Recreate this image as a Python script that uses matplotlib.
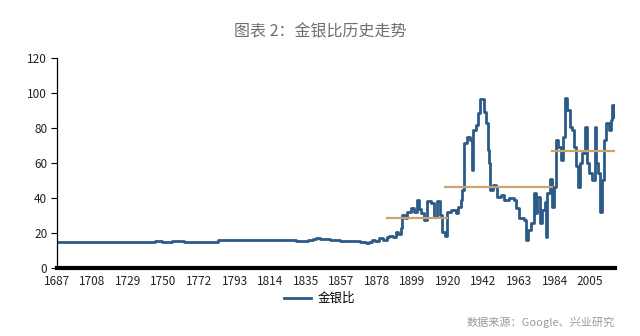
import matplotlib
matplotlib.use('Agg')
import matplotlib.pyplot as plt

plt.rcParams['font.family'] = ['Noto Sans CJK SC', 'DejaVu Sans']

# gold/silver ratio (year, ratio)
years = [1687, 1745.5, 1750, 1756, 1763, 1783, 1830, 1837, 1840, 1842, 1844, 1850,
         1856, 1863.6, 1868, 1871.8, 1873.7, 1875.5, 1877, 1879.7, 1882, 1884,
         1885.7, 1888, 1889.7, 1891, 1892.6, 1893.5, 1895, 1896.5, 1898.8, 1900.6,
         1902.4, 1903.5, 1904.6, 1906.6, 1908.4, 1910.6, 1912.5, 1914.3, 1916, 1917,
         1919, 1920.3, 1922.5, 1925.5, 1926.5, 1928.5, 1929.4, 1930.4, 1932.4, 1934,
         1934.8, 1935.4, 1937.4, 1938.4, 1940, 1941.4, 1942.4, 1943.4, 1944.4, 1945.4,
         1946, 1947.4, 1949.4, 1950.3, 1952.3, 1954.3, 1957.3, 1960.3, 1961.3, 1963.3,
         1966.2, 1967.2, 1968.6, 1970.2, 1972.2, 1973.2, 1974.2, 1975.8, 1977.2, 1978.6,
         1979.4, 1980.2, 1981.6, 1983.1, 1984.1, 1985.5, 1986.7, 1988.1, 1989.5, 1990.7,
         1992, 1993.5, 1995, 1996, 1997.4, 1998.6, 1999.8, 2001, 2002.6, 2003.6,
         2005, 2006.6, 2008.4, 2009.4, 2010.6, 2011.4, 2012.6, 2014, 2015.3, 2017,
         2018, 2019, 2020]
ratio = [15.0, 15.6, 15.0, 15.7, 15.0, 16.1, 15.6, 16.0, 16.3, 17.3, 16.4, 16.0,
         15.7, 15.4, 15.0, 14.2, 14.6, 16.2, 15.2, 17.0, 16.2, 17.6,
         18.3, 17.5, 20.6, 19.5, 23.0, 30.0, 28.5, 32.0, 34.0, 32.0,
         38.8, 33.5, 31.4, 27.4, 38.0, 37.0, 29.3, 38.0, 30.0, 20.8,
         18.0, 32.0, 33.0, 31.4, 35.0, 38.8, 44.6, 71.2, 75.0, 73.0,
         56.0, 79.0, 81.7, 88.4, 96.6, 96.6, 89.0, 82.7, 67.4, 60.0,
         44.6, 47.4, 46.5, 40.7, 41.7, 38.8, 39.8, 38.8, 34.0, 28.4,
         27.4, 16.0, 21.7, 25.5, 42.7, 31.2, 40.7, 25.5, 33.0, 37.9,
         17.9, 42.7, 51.0, 35.0, 46.5, 73.0, 69.0, 61.7, 75.0, 97.0,
         90.0, 80.7, 79.0, 69.0, 58.0, 46.5, 59.8, 65.7, 80.7, 59.8,
         54.0, 50.0, 80.7, 59.8, 54.0, 32.0, 50.0, 73.0, 82.7, 79.0,
         84.6, 93.0, 86.5]

# period averages
avg_start = [1884.5, 1919, 1983]
avg_end = [1920, 1983, 2020]
avg_val = [28.4, 46.0, 66.9]

tick_pos = [1687 + k * 21.25 for k in range(16)]
tick_lab = ['1687', '1708', '1729', '1750', '1772', '1793', '1814', '1835', '1857',
            '1878', '1899', '1920', '1942', '1963', '1984', '2005']

fig = plt.figure(figsize=(6.4, 3.36), dpi=100)
ax = fig.add_axes([0.089, 0.2024, 0.872, 0.625])

ax.plot(years, ratio, color='#2c5b87', lw=2.0, drawstyle='steps-post', label='金银比', zorder=2)
for s, e, v in zip(avg_start, avg_end, avg_val):
    ax.plot([s, e], [v, v], color='#c9a46e', lw=1.6, zorder=3)

ax.set_xlim(1687, 2020.6)
ax.set_ylim(0, 120)
ax.set_yticks(range(0, 121, 20))
ax.set_xticks(tick_pos)
ax.set_xticklabels(tick_lab)
ax.tick_params(axis='x', length=0, pad=5, labelsize=8.5, colors='#222222')
ax.tick_params(axis='y', length=4, width=0.8, pad=3, labelsize=8.5, colors='#222222')
ax.tick_params(axis='y', color='black')
for s in ['top', 'right']:
    ax.spines[s].set_visible(False)
ax.spines['bottom'].set_linewidth(3)
ax.spines['left'].set_linewidth(0.9)

fig.text(0.5, 0.905, '图表 2：金银比历史走势', ha='center', va='center', fontsize=11.5, color='#6f6f6f')
ax.legend(loc='center', bbox_to_anchor=(0.47, -0.145), frameon=False, fontsize=9,
          handlelength=2.2, handletextpad=0.5)
fig.text(0.96, 0.042, '数据来源：Google、兴业研究', ha='right', va='center', fontsize=8, color='#9a9a9a')

fig.savefig('out.png', dpi=100)
